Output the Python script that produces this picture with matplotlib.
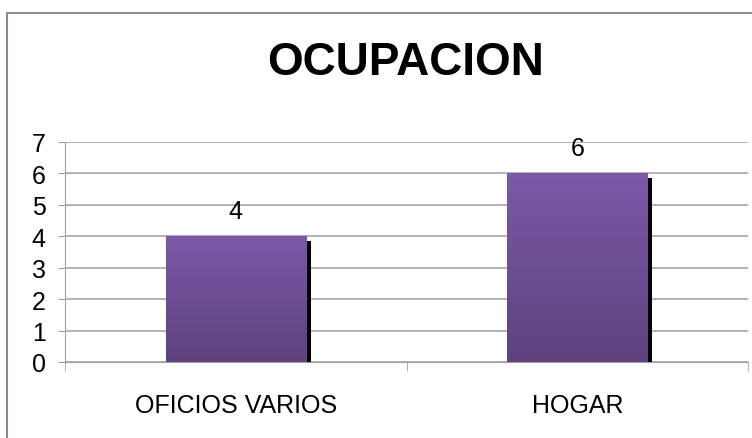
import numpy as np
import matplotlib.pyplot as plt
from matplotlib.lines import Line2D
from matplotlib.colors import LinearSegmentedColormap

categories = ["OFICIOS VARIOS", "HOGAR"]
values = [4, 6]
yticks = [0, 1, 2, 3, 4, 5, 6, 7]

plt.rcParams['font.family'] = ['Liberation Sans', 'DejaVu Sans']

fig = plt.figure(figsize=(7.52, 4.39), dpi=100)
ax = fig.add_axes([65 / 752, 76 / 439, 683 / 752, 220 / 439])

# outer frame (left and top edges visible)
fig.add_artist(Line2D([7 / 752, 7 / 752], [0, 1 - 14 / 439], transform=fig.transFigure,
                      color='#8c8c8c', lw=1.5))
fig.add_artist(Line2D([7 / 752, 1], [1 - 14 / 439, 1 - 14 / 439], transform=fig.transFigure,
                      color='#8c8c8c', lw=1.5))

x = np.arange(len(categories))
width = 0.41
cmap = LinearSegmentedColormap.from_list('purp', ['#5e4280', '#7c58a7'])
grad = np.linspace(0, 1, 256).reshape(-1, 1)

# shadow offsets in data units (about 5 px)
dx = 5 / 342
dy = 5 / (220 / 7)

for xi, v in zip(x, values):
    ax.bar(xi + dx, v - dy, width=width, color='black', zorder=2)
    ax.imshow(grad, cmap=cmap, origin='lower', aspect='auto', zorder=3,
              extent=[xi - width / 2, xi + width / 2, 0, v])
    ax.text(xi, v + 0.8, str(v), ha='center', va='center', fontsize=18, zorder=4)

ax.set_xlim(-0.5, len(categories) - 0.5)
ax.set_ylim(0, 7)
ax.set_yticks(yticks)
ax.set_yticklabels([str(t) for t in yticks], fontsize=18)
ax.set_xticks(x)
ax.set_xticklabels(categories, fontsize=18)
ax.tick_params(axis='x', which='major', length=0, pad=22)
ax.set_xticks(np.arange(-0.5, len(categories)), minor=True)
ax.tick_params(axis='x', which='minor', length=6.5, color='#a0a0a0', direction='out')
ax.tick_params(axis='y', length=5, color='#a0a0a0', pad=9)

ax.grid(axis='y', color='#a6a6a6', lw=1.2, zorder=1)
ax.set_axisbelow(True)
for s in ['top', 'right']:
    ax.spines[s].set_visible(False)
ax.spines['left'].set_color('#a0a0a0')
ax.spines['bottom'].set_color('#a0a0a0')

fig.text(406 / 752, 1 - 63 / 439, "OCUPACION", ha='center', va='center',
         fontsize=33, fontweight='bold')

fig.savefig('out.png', dpi=100)
